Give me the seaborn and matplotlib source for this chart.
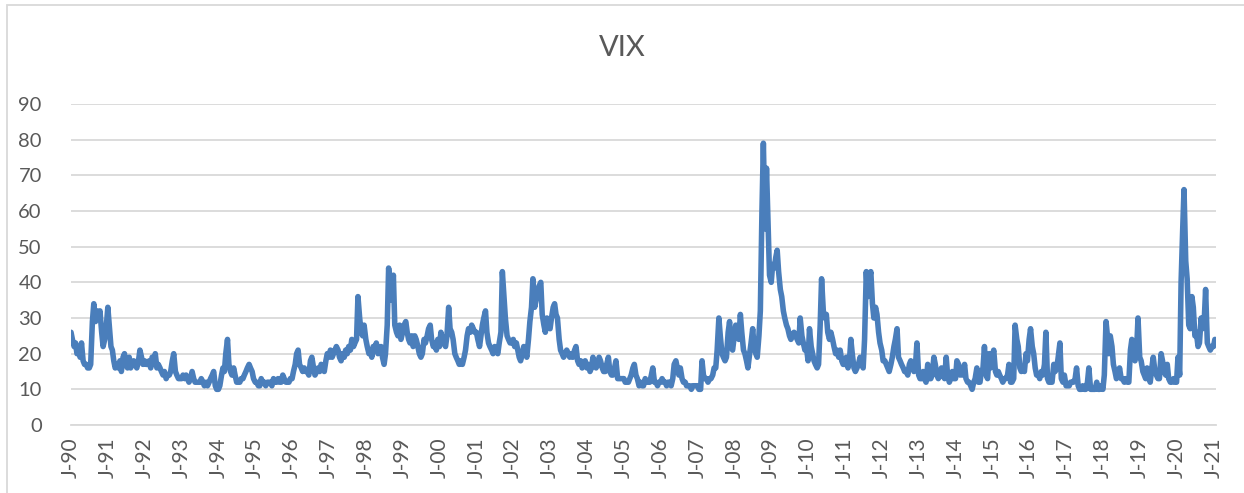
import matplotlib
matplotlib.use("Agg")
import matplotlib.pyplot as plt
from matplotlib.patches import Rectangle
import pandas as pd
import seaborn as sns

# VIX, two readings per month (1st and 15th), Jan 1990 - Jan 2021
vix = [
    26, 24, 22, 23, 20, 21, 19, 23, 18, 17, 17, 16, 16, 17, 29, 34, 29, 32, 30, 32, 26, 22, 24, 27,  # 1990
    33, 28, 22, 21, 18, 16, 17, 16, 18, 15, 19, 20, 17, 16, 19, 16, 17, 18, 17, 16, 18, 21, 19, 17,  # 1991
    18, 17, 17, 18, 16, 19, 18, 20, 16, 17, 16, 15, 14, 15, 13, 14, 14, 15, 18, 20, 15, 14, 13, 13,  # 1992
    13, 14, 13, 14, 13, 12, 13, 15, 13, 12, 12, 12, 12, 13, 12, 11, 12, 11, 12, 13, 14, 15, 11, 10,  # 1993
    10, 11, 14, 16, 15, 20, 24, 17, 15, 14, 16, 14, 12, 12, 12, 13, 13, 14, 15, 16, 17, 16, 15, 13,  # 1994
    12, 12, 11, 11, 13, 12, 12, 11, 12, 12, 12, 11, 13, 12, 12, 13, 12, 12, 14, 13, 12, 12, 12, 13,  # 1995
    13, 15, 17, 20, 21, 17, 16, 15, 16, 15, 15, 14, 18, 19, 16, 14, 15, 16, 15, 17, 16, 15, 18, 20,  # 1996
    19, 21, 19, 20, 21, 22, 21, 19, 18, 20, 19, 21, 20, 22, 21, 24, 22, 23, 24, 36, 30, 26, 25, 28,  # 1997
    24, 22, 20, 21, 19, 22, 21, 23, 20, 21, 22, 19, 17, 20, 28, 44, 38, 35, 42, 28, 26, 25, 28, 24,  # 1998
    26, 28, 29, 26, 24, 23, 25, 22, 25, 24, 22, 20, 19, 20, 24, 23, 25, 27, 28, 24, 22, 23, 21, 24,  # 1999
    22, 26, 24, 23, 22, 25, 33, 27, 26, 24, 20, 19, 18, 17, 18, 17, 19, 21, 25, 27, 26, 28, 27, 26,  # 2000
    26, 24, 22, 25, 28, 30, 32, 26, 23, 22, 21, 20, 22, 21, 20, 23, 26, 43, 36, 30, 25, 24, 23, 23,  # 2001
    24, 22, 23, 21, 19, 18, 20, 22, 21, 19, 24, 29, 33, 41, 33, 35, 38, 39, 40, 31, 28, 26, 30, 28,  # 2002
    27, 30, 33, 34, 31, 30, 24, 21, 20, 19, 20, 21, 20, 19, 20, 19, 21, 22, 18, 17, 18, 16, 17, 18,  # 2003
    16, 17, 15, 16, 19, 17, 16, 17, 19, 18, 16, 15, 15, 17, 19, 15, 14, 14, 16, 18, 13, 13, 13, 13,  # 2004
    13, 12, 12, 12, 13, 14, 16, 17, 14, 13, 11, 12, 11, 11, 13, 12, 12, 12, 14, 16, 12, 12, 11, 12,  # 2005
    12, 13, 12, 12, 11, 12, 12, 11, 13, 17, 18, 16, 14, 16, 13, 12, 12, 11, 11, 11, 10, 11, 11, 11,  # 2006
    11, 10, 10, 18, 14, 13, 13, 12, 13, 13, 14, 16, 16, 21, 30, 25, 20, 19, 18, 19, 26, 29, 22, 21,  # 2007
    25, 28, 25, 24, 31, 26, 21, 20, 18, 16, 20, 23, 27, 22, 20, 19, 25, 32, 60, 79, 55, 72, 56, 42,  # 2008
    40, 45, 44, 47, 49, 43, 38, 36, 32, 30, 28, 27, 25, 24, 25, 26, 25, 24, 23, 30, 25, 23, 21, 22,  # 2009
    18, 27, 22, 20, 18, 17, 16, 17, 28, 41, 32, 30, 31, 26, 24, 26, 24, 22, 20, 21, 19, 21, 18, 17,  # 2010
    17, 19, 16, 18, 24, 20, 16, 15, 16, 17, 19, 17, 16, 24, 43, 36, 41, 43, 34, 30, 33, 31, 26, 23,  # 2011
    21, 18, 18, 17, 16, 15, 17, 19, 22, 24, 27, 19, 18, 17, 16, 15, 15, 14, 17, 18, 16, 15, 17, 23,  # 2012
    14, 13, 13, 15, 13, 12, 17, 13, 13, 14, 19, 17, 14, 13, 14, 16, 14, 13, 19, 14, 12, 13, 15, 13,  # 2013
    13, 18, 17, 14, 15, 14, 17, 13, 12, 12, 11, 10, 12, 13, 16, 12, 12, 15, 16, 22, 14, 13, 20, 16,  # 2014
    19, 21, 15, 14, 15, 14, 13, 12, 13, 13, 14, 17, 12, 12, 13, 28, 24, 22, 16, 15, 16, 15, 20, 18,  # 2015
    24, 27, 22, 20, 16, 14, 14, 13, 15, 14, 17, 26, 13, 12, 12, 12, 17, 15, 16, 19, 23, 13, 12, 14,  # 2016
    11, 11, 11, 12, 12, 12, 13, 16, 11, 10, 10, 11, 10, 10, 12, 16, 10, 10, 10, 10, 12, 10, 10, 11,  # 2017
    10, 14, 29, 25, 20, 25, 22, 17, 15, 13, 14, 16, 13, 13, 12, 13, 12, 12, 21, 24, 19, 18, 21, 30,  # 2018
    19, 18, 15, 14, 13, 16, 13, 12, 16, 19, 15, 14, 13, 13, 20, 18, 15, 14, 17, 13, 12, 12, 13, 12,  # 2019
    12, 19, 14, 40, 54, 66, 46, 41, 28, 27, 36, 33, 25, 26, 22, 23, 30, 27, 29, 38, 23, 22, 21, 22,  # 2020
    22, 24,  # 2021
]
start_date = "1990-01-01"
end_date = "2021-01-26"
tick_years = list(range(1990, 2022))
tick_labels = ["J-%02d" % (y % 100) for y in tick_years]
y_ticks = list(range(0, 100, 10))

df = pd.DataFrame({"date": pd.date_range(start_date, periods=len(vix), freq="SMS"),
                   "vix": vix})

sns.set_style("white")
plt.rcParams["font.family"] = ["Lato", "DejaVu Sans"]

grey = "#D9D9D9"
txt = "#595959"
W, H = 1244, 493

fig = plt.figure(figsize=(W / 100, H / 100), dpi=100)
ax = fig.add_axes([71 / W, 1 - 425 / H, (1216 - 71) / W, (425 - 104) / H])

sns.lineplot(data=df, x="date", y="vix", ax=ax, color="#4A7EBB", linewidth=4.0)
for ln in ax.lines:
    ln.set_solid_joinstyle("round")
    ln.set_solid_capstyle("round")

ax.set_xlim(pd.Timestamp(start_date), pd.Timestamp(end_date))
ax.set_ylim(0, 90)
ax.set_yticks(y_ticks)
ax.set_xticks([pd.Timestamp("%d-01-01" % y) for y in tick_years])
ax.set_xticklabels(tick_labels, rotation=90)
ax.set_xlabel("")
ax.set_ylabel("")

ax.yaxis.grid(True, color=grey, linewidth=1.3)
ax.set_axisbelow(True)
for s in ["top", "right", "left"]:
    ax.spines[s].set_visible(False)
ax.spines["bottom"].set_color(grey)
ax.spines["bottom"].set_linewidth(1.3)
ax.tick_params(axis="x", direction="out", length=6, width=1.3, color=grey,
               labelcolor=txt, labelsize=15, pad=3)
ax.tick_params(axis="y", length=0, labelcolor=txt, labelsize=14.5, pad=21)

fig.text(0.5, 1 - 48 / H, "VIX", ha="center", va="center", fontsize=21, color=txt)

# chart area border
fig.patches.append(Rectangle((7 / W, -0.05), 1.2, 1 - 5 / H + 0.05, transform=fig.transFigure,
                             fill=False, edgecolor=grey, linewidth=1.3))

fig.savefig("out.png", dpi=100)
